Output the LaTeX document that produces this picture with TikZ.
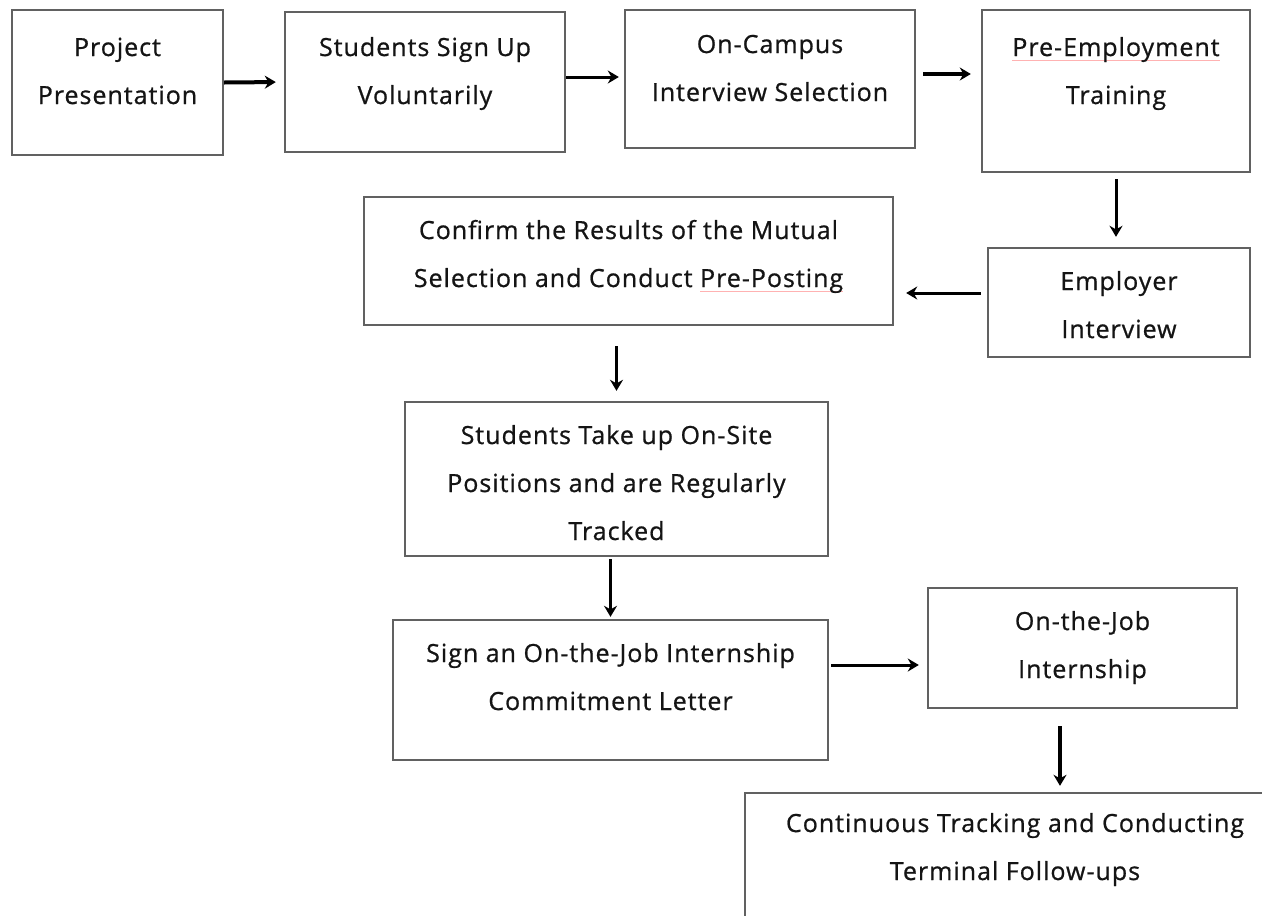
\documentclass[tikz,border=0pt]{standalone}
\usepackage{fontspec}
\setmainfont{Open Sans}[LetterSpace=4, FakeBold=0.8]
\usetikzlibrary{arrows.meta,positioning}

\newcommand\spellmark[1]{\setbox0=\hbox{#1}\rlap{\color{red!30}\rule[-5pt]{\wd0}{1.2pt}}\box0}

\begin{document}
\begin{tikzpicture}[x=1pt, y=-1pt,
    box/.style={draw=black!62, line width=2.4pt, align=center, inner sep=0pt,
                text=black!92, text depth=0pt, font=\fontsize{25}{48}\selectfont},
    lift/.style={text height=#1},
    arr/.style={-{Stealth[length=11pt, width=13pt]}, line width=3pt},
]
\useasboundingbox (0,0) rectangle (1262,916);
\clip (0,0) rectangle (1262,916);

% top row
\node[box, lift=43pt, minimum width=211pt, minimum height=145pt] (pres) at (117.5,82.5) {Project\\Presentation};
\node[box, lift=44pt, minimum width=280pt, minimum height=140pt] (signup) at (425,82) {Students Sign Up\\Voluntarily};
\node[box, lift=44pt, minimum width=290pt, minimum height=138pt] (campus) at (770,79) {On-Campus\\Interview Selection};
\node[box, lift=26pt, minimum width=268pt, minimum height=162pt] (train) at (1116,91) {\spellmark{Pre-Employment}\\Training};
\draw[arr, line width=4pt] (pres.east) -- (signup.west) [shorten >=8pt];
\draw[arr, shorten >=5pt] ([yshift=5pt]signup.east) -- ([yshift=5pt]signup.east -| campus.west);
\draw[arr, line width=3.6pt, shorten <=7pt, shorten >=10pt] ([yshift=5pt]campus.east) -- ([yshift=5pt]campus.east -| train.west);

% back to the left
\node[box, lift=71pt, minimum width=262pt, minimum height=109pt] (employ) at (1119,302.5) {Employer\\Interview};
\node[box, lift=52pt, minimum width=529pt, minimum height=128pt] (confirm) at (628.5,261) {Confirm the Results of the Mutual\\Selection and Conduct \spellmark{Pre-Posting}};
\draw[arr, shorten <=6pt, shorten >=10pt] (train.south) -- (train.south |- employ.north);
\draw[arr, shorten <=6pt, shorten >=12pt] ([yshift=9.5pt]employ.west) -- ([yshift=9.5pt]employ.west -| confirm.east);

% down the middle
\node[box, lift=122pt, minimum width=423pt, minimum height=154pt] (onsite) at (616.5,479) {Students Take up On-Site\\Positions and are Regularly\\Tracked};
\node[box, lift=40pt, minimum width=435pt, minimum height=140pt] (letter) at (610.5,690) {Sign an On-the-Job Internship\\Commitment Letter};
\draw[arr, line width=2.4pt, shorten <=20pt, shorten >=10pt] (onsite.north |- confirm.south) -- (onsite.north);
\draw[arr, line width=3.6pt, shorten <=2pt, shorten >=2pt] (letter.north |- onsite.south) -- (letter.north);

% internship and follow-up
\node[box, lift=60pt, minimum width=309pt, minimum height=120pt] (intern) at (1082.5,648) {On-the-Job\\Internship};
\node[box, lift=22pt, minimum width=540pt, minimum height=152pt] (follow) at (1015,869) {Continuous Tracking and Conducting\\Terminal Follow-ups};
\draw[arr, shorten <=2pt, shorten >=8pt] ([yshift=25pt]letter.east) -- ([yshift=25pt]letter.east -| intern.west);
\draw[arr, line width=3.6pt, shorten <=17pt, shorten >=6pt] ([xshift=-22.5pt]intern.south) -- ([xshift=-22.5pt]intern.south |- follow.north);
\end{tikzpicture}
\end{document}
